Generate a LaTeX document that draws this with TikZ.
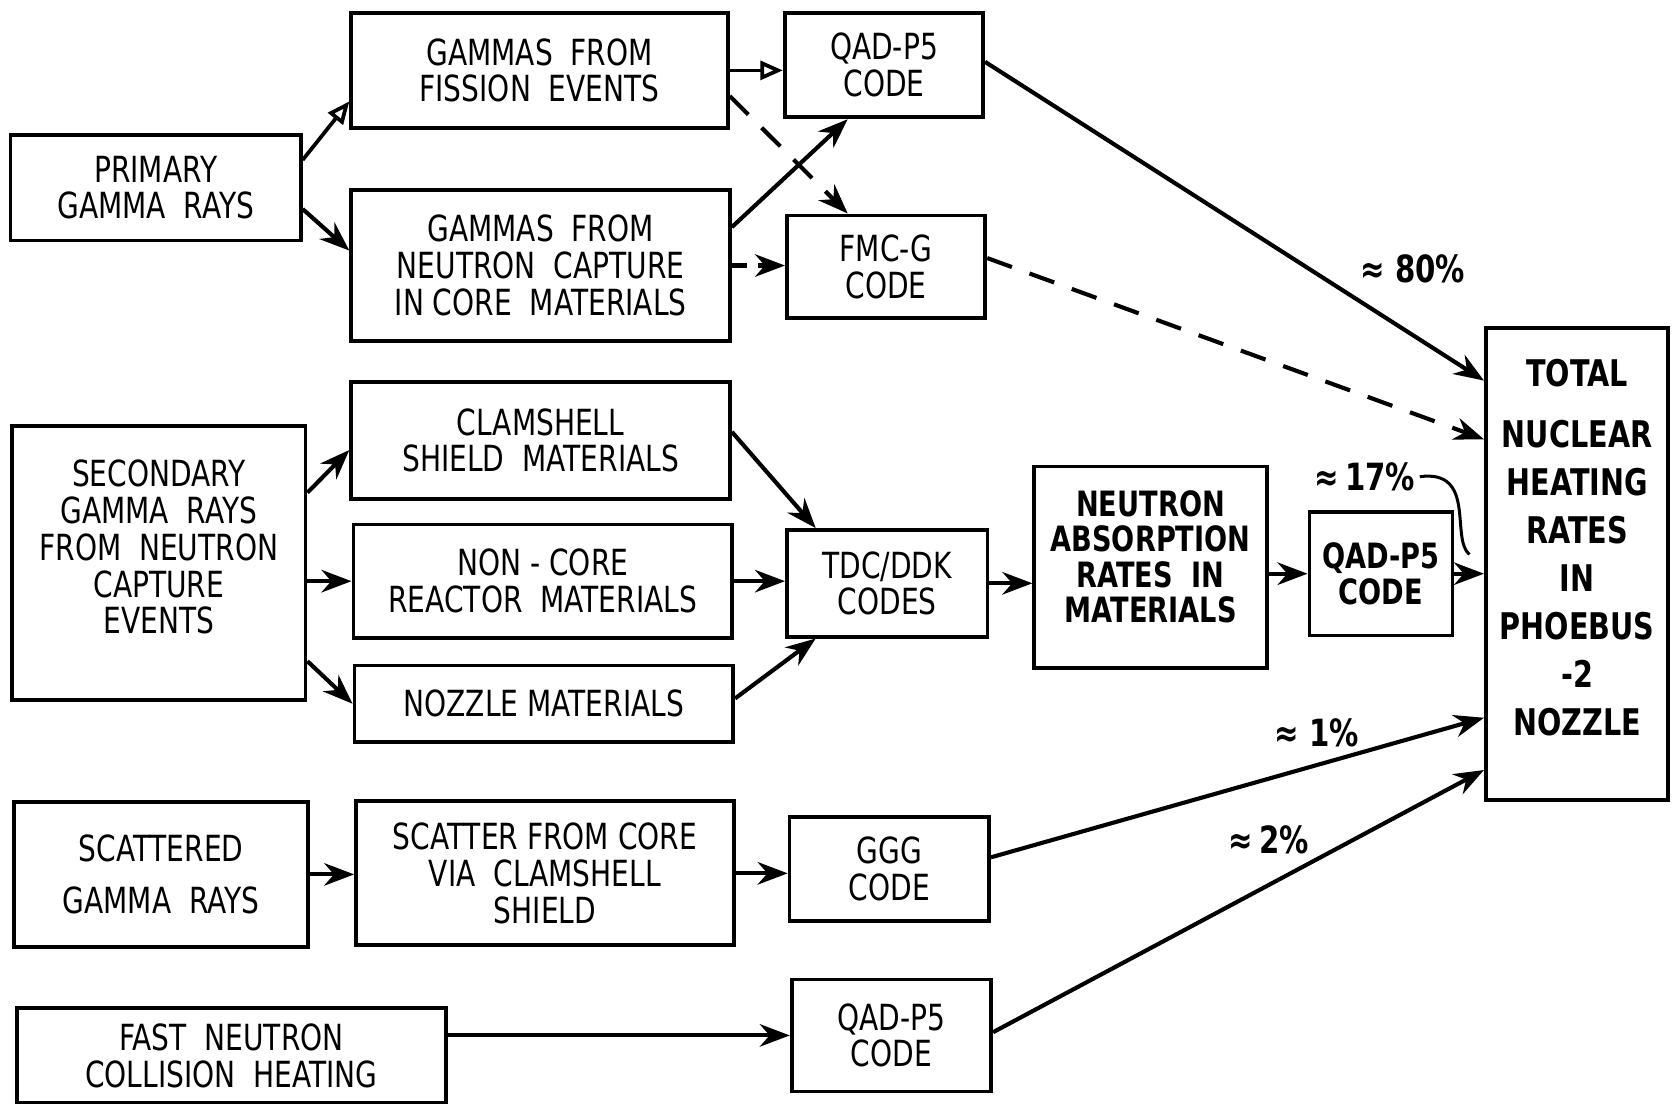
\documentclass[tikz,border=0pt]{standalone}
\usepackage{fontspec}
\setmainfont{DejaVu Sans}[FakeStretch=0.78]
\usetikzlibrary{arrows.meta}

\tikzset{
  blk/.style={draw, line width=1pt, align=center, inner sep=1pt,
              font=\fontsize{9.6}{9.8}\selectfont},
  bblk/.style={blk, font=\bfseries\fontsize{9.3}{9.4}\selectfont},
  flow/.style={line width=1.1pt, -{Stealth[length=8pt,width=6pt]}},
  openflow/.style={line width=1pt, -{Triangle[open,length=6pt,width=5pt]}},
  dflow/.style={flow, dash pattern=on 7pt off 5pt},
  pct/.style={font=\bfseries\fontsize{10}{11}\selectfont, inner sep=1pt}
}

\begin{document}
\begin{tikzpicture}[x=0.01cm,y=-0.01cm]
\useasboundingbox (0,0) rectangle (1568,1035);

% left column
\node[blk, minimum width=2.72cm, minimum height=0.99cm] (prim) at (146,176) {PRIMARY\\GAMMA\ \ RAYS};
\node[blk, minimum width=2.75cm, minimum height=2.57cm, text depth=0.3cm] (sec) at (149,528) {SECONDARY\\GAMMA\ \ RAYS\\FROM\ \ NEUTRON\\CAPTURE\\EVENTS};
\node[blk, minimum width=2.75cm, minimum height=1.36cm] (scat) at (151,820) {SCATTERED\\[0.15cm]GAMMA\ \ RAYS};
\node[blk, minimum width=4.02cm, minimum height=0.89cm] (fast) at (217,990) {FAST\ \ NEUTRON\\COLLISION\ \ HEATING};

% middle column
\node[blk, minimum width=3.53cm, minimum height=1.08cm] (fiss) at (506,66) {GAMMAS\ \ FROM\\FISSION\ \ EVENTS};
\node[blk, minimum width=3.55cm, minimum height=1.42cm] (capt) at (507,249) {GAMMAS\ \ FROM\\NEUTRON\ \ CAPTURE\\IN CORE\ \ MATERIALS};
\node[blk, minimum width=3.55cm, minimum height=1.10cm] (clam) at (507,413) {CLAMSHELL\\SHIELD\ \ MATERIALS};
\node[blk, minimum width=3.55cm, minimum height=1.06cm] (noncore) at (509,545) {NON - CORE\\REACTOR\ \ MATERIALS};
\node[blk, minimum width=3.55cm, minimum height=0.72cm] (nozz) at (510,660) {NOZZLE MATERIALS};
\node[blk, minimum width=3.54cm, minimum height=1.35cm] (via) at (511,819) {SCATTER FROM CORE\\VIA\ \ CLAMSHELL\\SHIELD};

% code boxes
\node[blk, minimum width=1.86cm, minimum height=0.98cm] (qad1) at (829,61) {QAD-P5\\CODE};
\node[blk, minimum width=1.86cm, minimum height=0.96cm] (fmc) at (831,250) {FMC-G\\CODE};
\node[blk, minimum width=1.88cm, minimum height=1.00cm] (tdc) at (832,547) {TDC/DDK\\CODES};
\node[blk, minimum width=1.87cm, minimum height=0.98cm] (ggg) at (834,815) {GGG\\CODE};
\node[blk, minimum width=1.87cm, minimum height=1.05cm] (qad3) at (836,971) {QAD-P5\\CODE};
\node[bblk, minimum width=2.18cm, minimum height=1.89cm, text depth=0.2cm] (abs) at (1079,532) {NEUTRON\\ABSORPTION\\RATES\ \ IN\\MATERIALS};
\node[bblk, minimum width=1.34cm, minimum height=1.16cm] (qad2) at (1295,538) {QAD-P5\\CODE};

% result
\node[bblk, minimum width=1.71cm, minimum height=4.42cm, text depth=0.32cm,
      font=\bfseries\fontsize{9.8}{12.8}\selectfont] (total) at (1479,529)
      {TOTAL\\[0.12cm]NUCLEAR\\HEATING\\RATES\\IN\\PHOEBUS\\-2\\NOZZLE};

% percentages
\node[pct] (p80) at (1325,252) {≈\ 80\%};
\node[pct] (p17) at (1280,447) {≈\,17\%};
\node[pct] (p1) at (1235,687) {≈\ 1\%};
\node[pct] (p2) at (1190,788) {≈\,2\%};
\coordinate (hook) at (1378,520);

% arrows
\draw[openflow] ([yshift=0.26cm]prim.east) -- ([yshift=-0.29cm]fiss.west);
\draw[flow] ([yshift=-0.20cm]prim.east) -- ([yshift=0.14cm]capt.west);
\draw[openflow] (fiss.east) -- (fiss.east -| qad1.west);
\draw[dflow] ([yshift=-0.24cm]fiss.east) -- ([xshift=-0.36cm]fmc.north);
\draw[flow] ([yshift=0.36cm]capt.east) -- ([xshift=-0.34cm]qad1.south);
\draw[dflow, dash pattern=on 4pt off 3pt] (capt.east) -- (capt.east -| fmc.west);
\draw[flow] ([yshift=0.03cm]qad1.east) -- ([yshift=1.72cm]total.west);
\draw[dflow] ([yshift=0.08cm]fmc.east) -- ([yshift=1.17cm]total.west);

\draw[flow] ([yshift=0.66cm]sec.east) -- ([yshift=-0.09cm]clam.west);
\draw[flow] (sec.east |- noncore.west) -- (noncore.west);
\draw[flow] ([yshift=-0.92cm]sec.east) -- (nozz.west);
\draw[flow] ([yshift=0.08cm]clam.east) -- ([xshift=-0.67cm]tdc.north);
\draw[flow] (noncore.east) -- (noncore.east -| tdc.west);
\draw[flow] ([yshift=0.05cm]nozz.east) -- ([xshift=-0.67cm]tdc.south);
\draw[flow] (tdc.east) -- (tdc.east -| abs.west);
\draw[flow] (abs.east |- qad2.west) -- (qad2.west);
\draw[flow] (qad2.east) -- (qad2.east -| total.west);
\draw[line width=0.8pt] (p17.east) .. controls (1385,440) and (1360,505) .. (hook);

\draw[flow] (scat.east) -- (scat.east -| via.west);
\draw[flow] (via.east) -- (via.east -| ggg.west);
\draw[flow] ([yshift=0.11cm]ggg.east) -- ([yshift=-1.44cm]total.west);
\draw[flow] (fast.east |- qad3.west) -- (qad3.west);
\draw[flow] ([yshift=0.03cm]qad3.east) -- ([yshift=-1.93cm]total.west);
\end{tikzpicture}
\end{document}
